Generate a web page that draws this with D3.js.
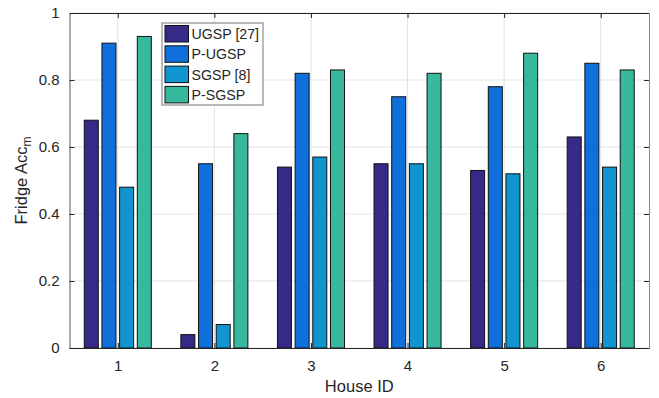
<!DOCTYPE html>
<html>
<head>
<meta charset="utf-8">
<script src="https://cdnjs.cloudflare.com/ajax/libs/d3/7.8.5/d3.min.js"></script>
<style>
  body { margin: 0; background: #fff; }
  text { font-family: "Liberation Sans", Arial, sans-serif; fill: #262626; }
</style>
</head>
<body>
<div id="chart"></div>
<script>
// data
const houses = [1, 2, 3, 4, 5, 6];
const seriesNames = ["UGSP [27]", "P-UGSP", "SGSP [8]", "P-SGSP"];
const ugsp  = [0.68, 0.04, 0.54, 0.55, 0.53, 0.63];
const pUgsp = [0.91, 0.55, 0.82, 0.75, 0.78, 0.85];
const sgsp  = [0.48, 0.07, 0.57, 0.55, 0.52, 0.54];
const pSgsp = [0.93, 0.64, 0.83, 0.82, 0.88, 0.83];
const yTicks = [0, 0.2, 0.4, 0.6, 0.8, 1];
const colors = ["#352A87", "#0F70DC", "#1195D0", "#38B89C"];

const allSeries = [ugsp, pUgsp, sgsp, pSgsp];

const W = 659, H = 398;
const margin = {top: 13, right: 10, bottom: 50, left: 69.5};
const width = W - margin.left - margin.right;
const height = H - margin.top - margin.bottom;

const svg = d3.select("#chart").append("svg")
    .attr("width", W)
    .attr("height", H);

const g = svg.append("g")
    .attr("transform", `translate(${margin.left},${margin.top})`);

const x = d3.scaleLinear().domain([0.5, 6.5]).range([0, width]);
const y = d3.scaleLinear().domain([0, 1]).range([height, 0]);

// offset of each bar in a group, in x units
const step = 0.183;
const barW = 0.145;

// grid
g.append("g").selectAll("line")
    .data(houses).join("line")
    .attr("x1", d => x(d)).attr("x2", d => x(d))
    .attr("y1", 0).attr("y2", height)
    .attr("stroke", "#e3e3e3");
g.append("g").selectAll("line")
    .data(yTicks).join("line")
    .attr("x1", 0).attr("x2", width)
    .attr("y1", d => y(d)).attr("y2", d => y(d))
    .attr("stroke", "#e3e3e3");

// bars
allSeries.forEach(function (vals, si) {
    g.append("g").selectAll("rect")
        .data(vals).join("rect")
        .attr("x", (d, i) => x(houses[i] + (si - 1.5) * step - barW / 2))
        .attr("width", x(barW) - x(0))
        .attr("y", d => y(d))
        .attr("height", d => y(0) - y(d))
        .attr("fill", colors[si])
        .attr("stroke", "#111")
        .attr("stroke-width", 1);
});

// axes
const xAxis = g.append("g")
    .attr("transform", `translate(0,${height})`)
    .call(d3.axisBottom(x).tickValues(houses).tickSizeInner(-5).tickSizeOuter(0).tickPadding(12)
        .tickFormat(d => d));
const yAxis = g.append("g")
    .call(d3.axisLeft(y).tickValues(yTicks).tickSizeInner(-5).tickSizeOuter(0).tickPadding(10)
        .tickFormat(d3.format("")));
const xTop = g.append("g")
    .call(d3.axisTop(x).tickValues(houses).tickSizeInner(-5).tickSizeOuter(0).tickFormat(""));
const yRight = g.append("g")
    .attr("transform", `translate(${width},0)`)
    .call(d3.axisRight(y).tickValues(yTicks).tickSizeInner(-5).tickSizeOuter(0).tickFormat(""));

[xAxis, yAxis, xTop, yRight].forEach(a => {
    a.select(".domain").attr("stroke", "#262626");
    a.selectAll(".tick line").attr("stroke", "#262626");
    a.selectAll(".tick text").attr("font-size", 15).attr("fill", "#262626")
        .attr("font-family", "Liberation Sans, Arial, sans-serif");
});
yRight.select(".domain").attr("stroke", "#8a8a8a");
yAxis.select(".domain").attr("stroke", "#555");

// axis labels
svg.append("text")
    .attr("x", margin.left + width / 2)
    .attr("y", 392)
    .attr("text-anchor", "middle")
    .attr("font-size", 16.5)
    .text("House ID");

const yl = svg.append("text")
    .attr("transform", `translate(27,${margin.top + height / 2}) rotate(-90)`)
    .attr("text-anchor", "middle")
    .attr("font-size", 16.5);
yl.append("tspan").text("Fridge Acc");
yl.append("tspan").attr("font-size", 12).attr("dy", 4).text("m");

// legend
const legend = svg.append("g").attr("transform", "translate(162,23)");
legend.append("rect")
    .attr("width", 101).attr("height", 82)
    .attr("fill", "#fff")
    .attr("stroke", "#777");
seriesNames.forEach(function (name, i) {
    const row = legend.append("g").attr("transform", `translate(3,${2.5 + i * 20.3})`);
    row.append("rect")
        .attr("width", 23.5).attr("height", 16.5)
        .attr("fill", colors[i])
        .attr("stroke", "#111");
    row.append("text")
        .attr("x", 26.5).attr("y", 13.5)
        .attr("font-size", 14.2)
        .text(name);
});
</script>
</body>
</html>
